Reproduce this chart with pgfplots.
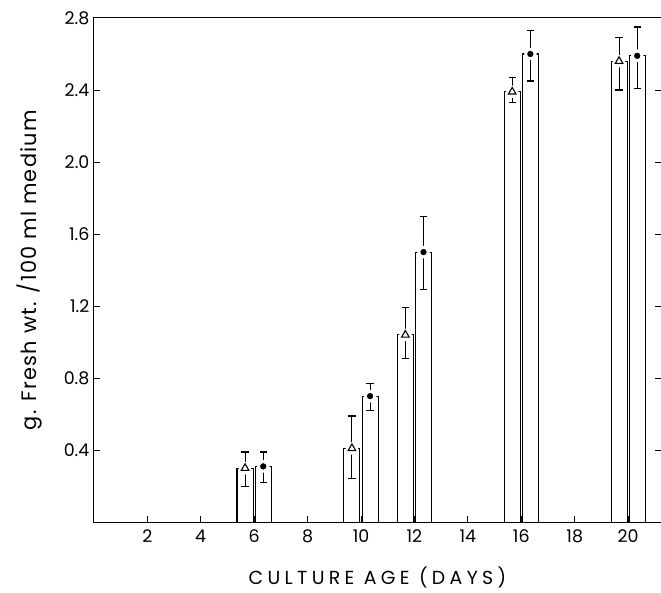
\documentclass[border=0pt]{standalone}
\usepackage{fontspec}
\setmainfont{Poppins}
\usepackage{pgfplots}
\pgfplotsset{compat=1.18}

\begin{document}
\begin{tikzpicture}
\begin{axis}[
  set layers,
  scale only axis,
  width=568bp,
  height=505bp,
  xmin=0, xmax=21.23,
  ymin=0, ymax=2.8,
  axis line style={line width=1bp},
  tick style={black, line width=1bp},
  tick align=inside,
  major tick length=6bp,
  xtick pos=left,
  ytick pos=both,
  xtick={2,4,...,20},
  xticklabels={2,4,6,8,10,12,14,16,18,20},
  ytick={0.4,0.8,1.2,1.6,2.0,2.4,2.8},
  yticklabels={0.4,0.8,1.2,1.6,2.0,2.4,2.8},
  tick label style={font=\fontsize{17.5}{18}\selectfont},
  /pgf/number format/assume math mode=true,
  xticklabel style={yshift=-4bp},
  yticklabel style={xshift=-1bp},
  xlabel={\addfontfeature{LetterSpace=23}CULTURE AGE (DAYS)},
  ylabel={\addfontfeature{LetterSpace=6}g. Fresh wt. /100 ml medium},
  every axis x label/.style={at={(axis description cs:0.5,-0.109)}, anchor=center, font=\fontsize{19}{20}\selectfont},
  every axis y label/.style={at={(axis description cs:-0.113,0.5)}, rotate=90, anchor=center, font=\fontsize{21}{22}\selectfont},
  clip=false,
]
% bars: triangle series (left) and dot series (right)
\addplot[ybar, bar width=0.6, bar shift=0, fill=white, draw=black, line width=1.1bp]
  coordinates {(5.66,0.30) (9.66,0.41) (11.66,1.04) (15.66,2.39) (19.66,2.56)};
\addplot[ybar, bar width=0.6, bar shift=0, fill=white, draw=black, line width=1.1bp]
  coordinates {(6.34,0.31) (10.34,0.70) (12.34,1.50) (16.34,2.60) (20.34,2.59)};
% error bars
\addplot[draw=none, mark=none,
  error bars/.cd, y dir=both, y explicit,
  error bar style={black, line width=1.1bp},
  error mark options={black, rotate=90, mark size=3.6bp, line width=1.1bp}]
  coordinates {
    (5.66,0.30) += (0,0.09) -= (0,0.10)
    (9.66,0.41) += (0,0.18) -= (0,0.165)
    (11.66,1.04) += (0,0.15) -= (0,0.13)
    (15.66,2.39) += (0,0.08) -= (0,0.06)
    (19.66,2.56) += (0,0.13) -= (0,0.16)
  };
\addplot[draw=none, mark=none,
  error bars/.cd, y dir=both, y explicit,
  error bar style={black, line width=1.1bp},
  error mark options={black, rotate=90, mark size=3.6bp, line width=1.1bp}]
  coordinates {
    (6.34,0.31) += (0,0.08) -= (0,0.09)
    (10.34,0.70) += (0,0.07) -= (0,0.08)
    (12.34,1.50) += (0,0.20) -= (0,0.21)
    (16.34,2.60) += (0,0.13) -= (0,0.15)
    (20.34,2.59) += (0,0.16) -= (0,0.18)
  };
% white gaps around the markers
\addplot[on layer=axis foreground, only marks, mark=*, mark size=6bp, mark options={draw=white, fill=white}]
  coordinates {(5.66,0.30) (9.66,0.41) (11.66,1.04) (15.66,2.39) (19.66,2.56)
               (6.34,0.31) (10.34,0.70) (12.34,1.50) (16.34,2.60) (20.34,2.59)};
% markers
\addplot[on layer=axis foreground, only marks, mark=triangle, mark size=4.4bp, mark options={black, line width=1.1bp, fill=white}]
  coordinates {(5.66,0.30) (9.66,0.41) (11.66,1.04) (15.66,2.39) (19.66,2.56)};
\addplot[on layer=axis foreground, only marks, mark=*, mark size=2.9bp, mark options={black, fill=black}]
  coordinates {(6.34,0.31) (10.34,0.70) (12.34,1.50) (16.34,2.60) (20.34,2.59)};
\end{axis}
\pgfresetboundingbox
\path (current axis.south west) ++(-94bp,-70bp) coordinate (bl);
\path (current axis.north east) ++(-1bp,18bp) coordinate (tr);
\path (bl) rectangle (tr);
\end{tikzpicture}
\end{document}
